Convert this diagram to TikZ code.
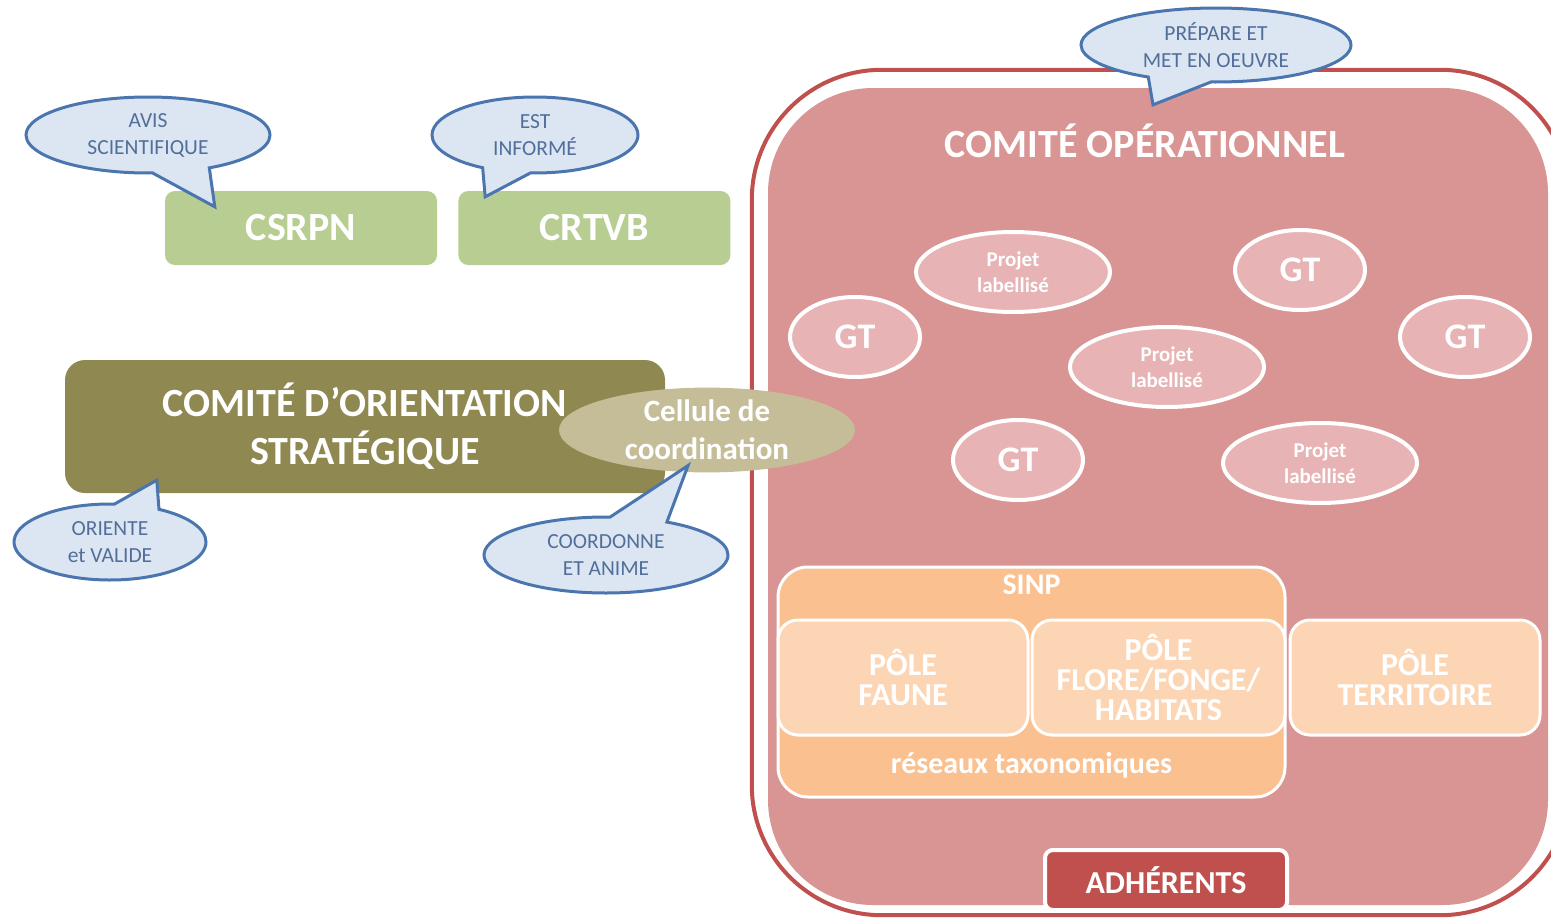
\documentclass[tikz,border=0pt]{standalone}
\usepackage{fontspec}
\setmainfont{Carlito}
\definecolor{copBorder}{rgb}{0.753,0.314,0.302}
\definecolor{copBody}{rgb}{0.851,0.584,0.580}
\definecolor{gtBody}{rgb}{0.906,0.702,0.706}
\definecolor{sinpBody}{rgb}{0.980,0.753,0.565}
\definecolor{poleBody}{rgb}{0.988,0.835,0.710}
\definecolor{cosBody}{rgb}{0.561,0.533,0.318}
\definecolor{celluleBody}{rgb}{0.769,0.741,0.592}
\definecolor{consultBody}{rgb}{0.718,0.804,0.573}
\definecolor{bubbleBody}{rgb}{0.863,0.902,0.949}
\definecolor{bubbleBorder}{rgb}{0.290,0.459,0.682}
\definecolor{bubbleText}{rgb}{0.322,0.431,0.604}
\usepackage{tikz}
\usetikzlibrary{shapes}
\usetikzlibrary{shapes.callouts}
\usetikzlibrary{positioning}
\usetikzlibrary{calc}
\tikzstyle{panel} = [rectangle, inner sep=0pt, align=center, text=white]
\tikzstyle{consult} = [panel, fill=consultBody, rounded corners=10pt,
        minimum width=272pt, minimum height=74pt, font={\fontsize{40}{44}\selectfont\bfseries}]
\tikzstyle{cos} = [panel, fill=cosBody, rounded corners=20pt,
        minimum width=600pt, minimum height=133pt, font={\fontsize{40}{48}\selectfont\bfseries}]
\tikzstyle{cop} = [panel, fill=copBody, rounded corners=105pt, minimum width=780pt, minimum height=817pt]
\tikzstyle{copFrame} = [draw=copBorder, line width=4pt, rounded corners=130pt]
\tikzstyle{bigLabel} = [text=white, font={\fontsize{40}{44}\selectfont\bfseries}]
\tikzstyle{cellule} = [ellipse, inner sep=0pt, align=center, text=white, fill=celluleBody,
        minimum width=296pt, minimum height=84pt, font={\fontsize{31}{38}\selectfont\bfseries}]
\tikzstyle{gt} = [ellipse, inner sep=0pt, align=center, text=white, fill=gtBody, draw=white,
        line width=4pt, minimum width=130pt, minimum height=80pt, font={\fontsize{36}{40}\selectfont\bfseries}]
\tikzstyle{projet} = [gt, minimum width=194pt, font={\fontsize{21}{26}\selectfont\bfseries}]
\tikzstyle{sinp} = [panel, fill=sinpBody, draw=white, line width=3pt, rounded corners=30pt,
        minimum width=507pt, minimum height=230pt]
\tikzstyle{pole} = [panel, fill=poleBody, draw=white, line width=3pt, rounded corners=20pt,
        minimum width=250pt, minimum height=115pt, font={\fontsize{32}{30}\selectfont\bfseries}]
\tikzstyle{sinpLabel} = [text=white, inner sep=0pt, font={\fontsize{30}{32}\selectfont\bfseries}]
\tikzstyle{adherents} = [panel, fill=copBorder, draw=white, line width=4pt, rounded corners=8pt,
        minimum width=242pt, minimum height=60pt, font={\fontsize{32}{34}\selectfont\bfseries}]
\tikzstyle{bubble} = [ellipse callout, callout pointer arc=28, inner sep=0pt, align=center,
        fill=bubbleBody, draw=bubbleBorder, line width=3pt, text=bubbleText,
        minimum height=76pt, font={\fontsize{21.5}{27}\selectfont}]
\begin{document}
\begin{tikzpicture}[x=1pt, y=-1pt]
            \useasboundingbox (0,0) rectangle (1551,921);
            \clip (0,0) rectangle (1551,921);
            \node [cop] (cop) at (1158,496.5) {};
            \draw [copFrame] ($(cop.north west)+(-16,-18)$) rectangle ($(cop.south east)+(22,10)$);
            \node [bigLabel] (coptitle) at (1145,141) {COMITÉ OPÉRATIONNEL};
            \node [projet] (projet1) at (1013,272) {Projet\\labellisé};
            \node [gt] (gt1) at (1300,270) {GT};
            \node [gt] (gt2) at (855,337) {GT};
            \node [projet] (projet2) at (1167,367) {Projet\\labellisé};
            \node [gt] (gt3) at (1465,337) {GT};
            \node [gt] (gt4) at (1018,460) {GT};
            \node [projet] (projet3) at (1320,463) {Projet\\labellisé};
            \node [sinp] (sinp) at (1031.5,682) {};
            \node [sinpLabel, below=9pt of sinp.north] (sinptitle) {SINP};
            \node [sinpLabel, above=20pt of sinp.south] (reseaux) {réseaux taxonomiques};
            \node [pole] (faune) at (903,677.5) {PÔLE\\FAUNE};
            \node [pole, right=1pt of faune, minimum width=253pt] (flore) {PÔLE\\FLORE/FONGE/\\HABITATS};
            \node [pole, right=2pt of flore] (territoire) {PÔLE\\TERRITOIRE};
            \node [adherents] (adherents) at (1166,880) {ADHÉRENTS};
            \node [consult] (csrpn) at (301,228) {CSRPN};
            \node [consult, right=21pt of csrpn] (crtvb) {CRTVB};
            \node [cos] (cos) at (365,426.5) {COMITÉ D’ORIENTATION\\STRATÉGIQUE};
            \node [cellule] (cellule) at (707,430) {Cellule de\\coordination};
            \node [bubble, minimum width=244pt,
                callout absolute pointer={($(csrpn.north west)+(50,16)$)}]
                (avis) at (148,135) {AVIS\\SCIENTIFIQUE};
            \node [bubble, minimum width=206pt,
                callout absolute pointer={($(crtvb.north west)+(27,6)$)}]
                (informe) at (535,135) {EST\\INFORMÉ};
            \node [bubble, minimum width=270pt, minimum height=74pt,
                callout absolute pointer={($(cop.north)+(-5,17)$)}]
                (prepare) at (1216,45) {PRÉPARE ET\\MET EN OEUVRE};
            \node [bubble, minimum width=192pt,
                callout absolute pointer={($(cos.south west)+(92,-13)$)}]
                (oriente) at (110,542) {ORIENTE\\et VALIDE};
            \node [bubble, minimum width=244pt,
                callout absolute pointer={($(cellule.south)+(-19,-7)$)}]
                (coordonne) at (606,555) {COORDONNE\\ET ANIME};
        \end{tikzpicture}
\end{document}
